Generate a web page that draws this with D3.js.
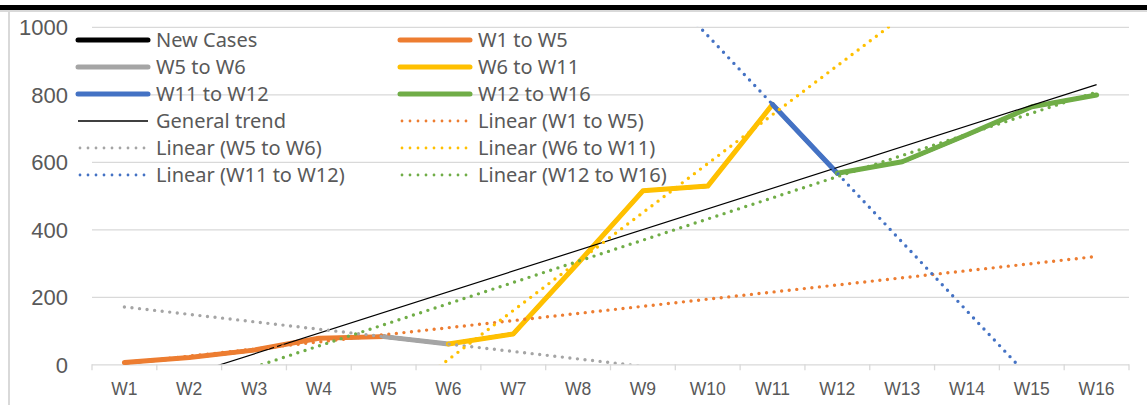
<!DOCTYPE html>
<html>
<head>
<meta charset="utf-8">
<script src="https://cdn.jsdelivr.net/npm/d3@7"></script>
<style>
  html, body { margin: 0; padding: 0; background: #fff; }
  svg { display: block; font-family: "Noto Sans", "Open Sans", sans-serif; }
</style>
</head>
<body>
<svg id="chart" width="1147" height="405"></svg>
<script>
// Weekly categories and weekly new cases
const weeks = ["W1","W2","W3","W4","W5","W6","W7","W8","W9","W10","W11","W12","W13","W14","W15","W16"];
const newCases = [5, 20, 42, 77, 82, 60, 90, 300, 514, 528, 770, 566, 600, 680, 763, 798];

// Highlighted segments of the same series
const segmentNames  = ["W1 to W5", "W5 to W6", "W6 to W11", "W11 to W12", "W12 to W16"];
const segmentStart  = ["W1", "W5", "W6", "W11", "W12"];
const segmentEnd    = ["W5", "W6", "W11", "W12", "W16"];
const segmentColors = ["#ED7D31", "#A5A5A5", "#FFC000", "#4472C4", "#70AD47"];

const yTicks = [0, 200, 400, 600, 800, 1000];

const svg = d3.select("#chart");
const W = 1147, H = 405;
const plot = { left: 92, right: 1129, top: 26.8, bottom: 364.3 };

// Frame: dark strip on top, light edges
svg.append("rect").attr("x", 0).attr("y", 5).attr("width", W).attr("height", 5).attr("fill", "#000");
svg.append("rect").attr("x", 0).attr("y", 10).attr("width", W).attr("height", 2).attr("fill", "#d9d9d9");
svg.append("rect").attr("x", 8).attr("y", 10).attr("width", 2).attr("height", H - 10).attr("fill", "#d9d9d9");

const x = d3.scaleBand().domain(weeks).range([plot.left, plot.right]).paddingInner(0).paddingOuter(0);
const cx = w => x(w) + x.bandwidth() / 2;
// numeric week position (1-based) for trendlines
const xNum = d3.scaleLinear().domain([0.5, weeks.length + 0.5]).range([plot.left, plot.right]);
const y = d3.scaleLinear().domain([0, 1000]).range([plot.bottom, plot.top]);

// Horizontal gridlines and value labels
const yAxis = d3.axisLeft(y).tickValues(yTicks).tickSize(-(plot.right - plot.left)).tickPadding(24).tickFormat(d3.format("d"));
const gy = svg.append("g").attr("transform", `translate(${plot.left},0)`).call(yAxis);
gy.select(".domain").remove();
gy.selectAll(".tick line").attr("stroke", "#d9d9d9").attr("stroke-width", 1.3);
gy.selectAll(".tick text").attr("fill", "#595959").style("font-size", "22px").attr("dy", "0.35em");

// Category axis with tick marks between weeks
const xAxis = d3.axisBottom(x).tickSize(0).tickPadding(18);
const gx = svg.append("g").attr("transform", `translate(0,${plot.bottom})`).call(xAxis);
gx.select(".domain").remove();
gx.selectAll(".tick text").attr("fill", "#595959").style("font-size", "17.5px");
const boundaries = weeks.map(w => x(w)).concat([plot.right]);
svg.append("g").selectAll("line").data(boundaries).join("line")
  .attr("x1", d => d).attr("x2", d => d)
  .attr("y1", plot.bottom).attr("y2", plot.bottom + 6)
  .attr("stroke", "#d9d9d9").attr("stroke-width", 1.3);

// Lines
const line = d3.line().x(d => cx(d.w)).y(d => y(d.v));
const pts = weeks.map((w, i) => ({ w, v: newCases[i], i: i + 1 }));

svg.append("path").datum(pts).attr("d", line)
  .attr("fill", "none").attr("stroke", "#000").attr("stroke-width", 3.6)
  .attr("stroke-linejoin", "round").attr("stroke-linecap", "round");

const segments = segmentNames.map((name, k) => {
  const a = weeks.indexOf(segmentStart[k]), b = weeks.indexOf(segmentEnd[k]);
  return { name, color: segmentColors[k], data: pts.slice(a, b + 1) };
});
svg.append("g").selectAll("path").data(segments).join("path")
  .attr("d", s => line(s.data))
  .attr("fill", "none").attr("stroke", s => s.color).attr("stroke-width", 5)
  .attr("stroke-linejoin", "round").attr("stroke-linecap", "round");

// Least-squares linear trend
function fit(data) {
  const mx = d3.mean(data, d => d.i), my = d3.mean(data, d => d.v);
  const sxy = d3.sum(data, d => (d.i - mx) * (d.v - my));
  const sxx = d3.sum(data, d => (d.i - mx) * (d.i - mx));
  const m = sxy / sxx;
  return t => my + m * (t - mx);
}

svg.append("clipPath").attr("id", "plotClip").append("rect")
  .attr("x", plot.left).attr("y", plot.top)
  .attr("width", plot.right - plot.left).attr("height", plot.bottom - plot.top);

const trendG = svg.append("g").attr("clip-path", "url(#plotClip)");
const trendPath = f => {
  const t0 = 1, t1 = weeks.length;
  return d3.line()([[xNum(t0), y(f(t0))], [xNum(t1), y(f(t1))]]);
};

// General trend over all weeks
trendG.append("path").attr("d", trendPath(fit(pts)))
  .attr("fill", "none").attr("stroke", "#000").attr("stroke-width", 1.2);

// Trend of each segment
trendG.selectAll("path.seg").data(segments).join("path").attr("class", "seg")
  .attr("d", s => trendPath(fit(s.data)))
  .attr("fill", "none").attr("stroke", s => s.color).attr("stroke-width", 3.4)
  .attr("stroke-linecap", "round").attr("stroke-dasharray", "0 7.6");

// Legend, two columns
const legendItems = [
  { label: "New Cases", color: "#000", kind: "solid" },
  ...segments.map(s => ({ label: s.name, color: s.color, kind: "solid" })),
  { label: "General trend", color: "#000", kind: "thin" },
  ...segments.map(s => ({ label: `Linear (${s.name})`, color: s.color, kind: "dot" }))
];
const legendCols = [78, 400], legendTop = 40, legendRow = 27, sampleLen = 70;
const lg = svg.append("g").selectAll("g").data(legendItems).join("g")
  .attr("transform", (d, i) => `translate(${legendCols[i % 2]},${legendTop + Math.floor(i / 2) * legendRow})`);
lg.append("line")
  .attr("x1", d => d.kind === "dot" ? 2 : 0).attr("x2", d => d.kind === "dot" ? sampleLen - 2 : sampleLen)
  .attr("y1", 0).attr("y2", 0)
  .attr("stroke", d => d.color)
  .attr("stroke-width", d => d.kind === "solid" ? 5 : d.kind === "thin" ? 1.5 : 2.8)
  .attr("stroke-linecap", d => d.kind === "thin" ? "butt" : "round")
  .attr("stroke-dasharray", d => d.kind === "dot" ? "0 8" : null);
lg.append("text").attr("x", sampleLen + 8).attr("y", 0).attr("dy", "0.35em")
  .attr("fill", "#595959").style("font-size", "20px").text(d => d.label);
</script>
</body>
</html>
